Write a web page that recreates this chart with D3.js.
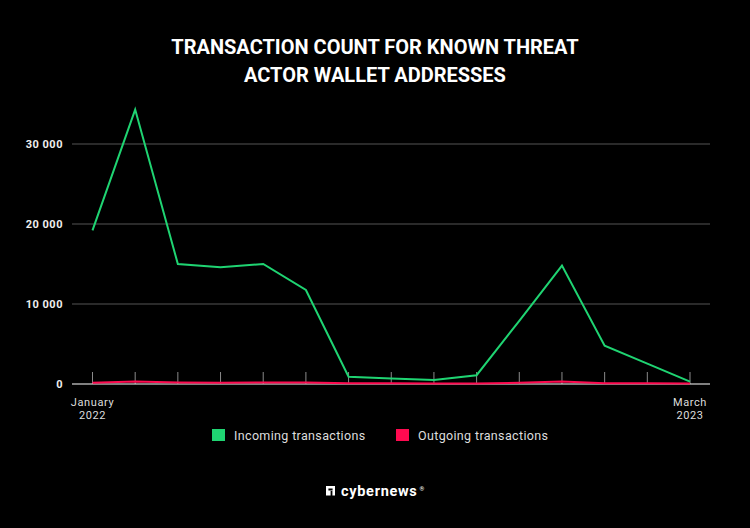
<!DOCTYPE html>
<html><head><meta charset="utf-8">
<script src="https://cdn.jsdelivr.net/npm/d3@7"></script>
<style>html,body{margin:0;padding:0;background:#000;}svg{display:block;}</style>
</head><body>
<svg id="c" width="750" height="528"></svg>
<script>
const months = ["2022-01","2022-02","2022-03","2022-04","2022-05","2022-06","2022-07","2022-08","2022-09","2022-10","2022-11","2022-12","2023-01","2023-02","2023-03"];
const incoming = [19200, 34300, 15000, 14600, 15000, 11750, 900, 700, 500, 1100, 7900, 14800, 4800, 2550, 300];
const outgoing = [150, 300, 200, 150, 200, 200, 100, 80, 60, 60, 150, 300, 100, 80, 50];
const yTicks = [0, 10000, 20000, 30000];
const xLabels = [["January","2022"],["March","2023"]];
const seriesNames = ["Incoming transactions","Outgoing transactions"];
const colors = ["#1fd472","#ff0a50"];

const svg = d3.select("#c");
svg.append("rect").attr("width",750).attr("height",528).attr("fill","#000");

const x = d3.scalePoint().domain(months).range([92.5, 690]);
const y = d3.scaleLinear().domain([0, 35000]).range([384, 104]);
const left = 72, right = 710;

// title
const title = svg.append("text").attr("text-anchor","middle").attr("fill","#fff")
  .style("font-family","Roboto").style("font-weight","700").style("font-size","20px");
title.append("tspan").attr("x",375).attr("y",54).text("TRANSACTION COUNT FOR KNOWN THREAT");
title.append("tspan").attr("x",375).attr("y",82).text("ACTOR WALLET ADDRESSES");

// gridlines
svg.append("g").selectAll("line").data(yTicks.filter(d=>d>0)).join("line")
  .attr("x1",left).attr("x2",right).attr("y1",d=>y(d)).attr("y2",d=>y(d))
  .attr("stroke","#555").attr("stroke-width",1.2);

// y axis labels
svg.append("g").selectAll("text").data(yTicks).join("text")
  .attr("x",63).attr("y",d=>y(d)+4).attr("text-anchor","end")
  .attr("fill","#eee").style("font-family","Roboto").style("font-weight","700").style("font-size","11px")
  .style("letter-spacing","0.5px")
  .text(d=>d3.format(",")(d).replace(/,/g," "));

// x ticks
svg.append("g").selectAll("line").data(months).join("line")
  .attr("x1",d=>x(d)).attr("x2",d=>x(d)).attr("y1",y(0)-12).attr("y2",y(0))
  .attr("stroke","#8a8a8a").attr("stroke-width",1);

// baseline
svg.append("line").attr("x1",left).attr("x2",right).attr("y1",y(0)).attr("y2",y(0))
  .attr("stroke","#fff").attr("stroke-width",1.2);

// lines
const line = d3.line().x((d,i)=>x(months[i])).y(d=>y(d));
[incoming, outgoing].forEach((s,i)=>{
  svg.append("path").datum(s).attr("d",line).attr("fill","none")
    .attr("stroke",colors[i]).attr("stroke-width",2).attr("stroke-linejoin","miter");
});

// x labels
const xl = svg.append("g");
[[months[0],xLabels[0]],[months[months.length-1],xLabels[1]]].forEach(([m,lab])=>{
  const t = xl.append("text").attr("text-anchor","middle").attr("fill","#ddd")
    .style("font-family","Roboto").style("font-size","11px").style("letter-spacing","0.6px");
  t.append("tspan").attr("x",x(m)).attr("y",406).text(lab[0]);
  t.append("tspan").attr("x",x(m)).attr("y",419).text(lab[1]);
});

// legend
const lg = svg.append("g");
const legX = [212, 396];
seriesNames.forEach((n,i)=>{
  lg.append("rect").attr("x",legX[i]).attr("y",429).attr("width",13).attr("height",12).attr("fill",colors[i]);
  lg.append("text").attr("x",legX[i]+22).attr("y",439.5).attr("fill","#ddd")
    .style("font-family","Roboto").style("font-size","12.5px").style("letter-spacing","0.35px").text(n);
});

// logo
const logo = svg.append("g");
logo.append("path").attr("d","M326 486 h9 v9.5 h-2.6 v-4.5 h-1.8 v4.5 h-2.2 v-4.5 h-0 v4.5 h-2.4 z M328.4 488.4 v2 h4.2 v-2 z").attr("fill","#fff").attr("fill-rule","evenodd");
logo.append("text").attr("x",341).attr("y",496).attr("fill","#fff")
  .style("font-family","Roboto").style("font-weight","700").style("font-size","14.5px").style("letter-spacing","0.7px").text("cybernews");
logo.append("text").attr("x",419.5).attr("y",491).attr("fill","#fff")
  .style("font-family","Roboto").style("font-weight","700").style("font-size","6px").text("®");
</script>
</body></html>
